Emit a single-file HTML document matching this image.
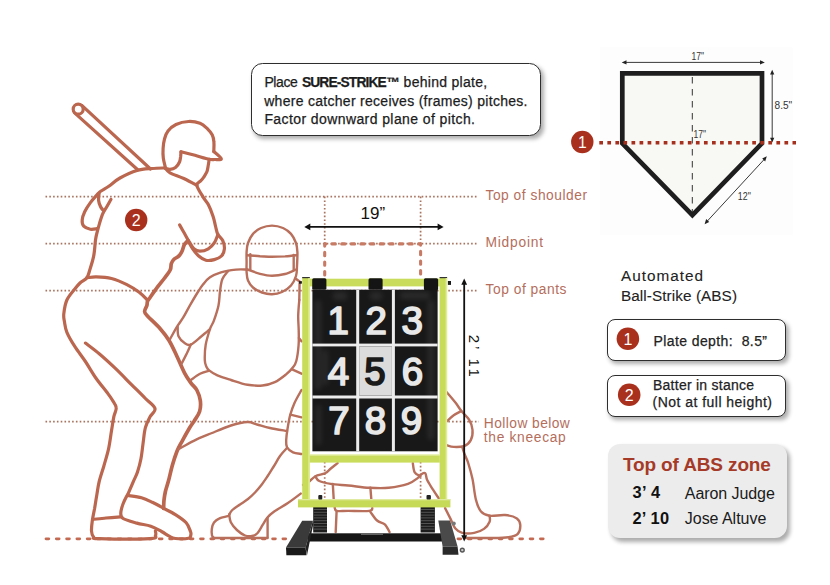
<!DOCTYPE html>
<html><head><meta charset="utf-8">
<style>
html,body{margin:0;padding:0;background:#fff;}
body{width:830px;height:585px;overflow:hidden;position:relative;font-family:"Liberation Sans",sans-serif;}
svg{position:absolute;left:0;top:0;}
.box{position:absolute;box-sizing:border-box;background:#fff;border:1.4px solid #2e2e2e;border-radius:10px;box-shadow:2.5px 3px 4px rgba(0,0,0,0.32);color:#222;}
.t{position:absolute;white-space:nowrap;}
</style></head><body>
<svg width="830" height="585" viewBox="0 0 830 585">
  <!-- faint plate bg -->
  <rect x="600" y="47" width="193" height="188" fill="#fdfdfd"/>
  
  <!-- dotted guide lines -->
  <g stroke="#a8735f" stroke-width="1.7" stroke-dasharray="1.6 2.2" fill="none">
    <line x1="45.5" y1="196.6" x2="478" y2="196.6"/>
    <line x1="45.5" y1="243.6" x2="478" y2="243.6"/>
    <line x1="45.5" y1="290.6" x2="478" y2="290.6"/>
    <line x1="45.5" y1="421.6" x2="479" y2="421.6"/>
    <line x1="324.7" y1="196.6" x2="324.7" y2="243"/>
    <line x1="420.6" y1="196.6" x2="420.6" y2="243"/>
    <line x1="324.7" y1="462" x2="324.7" y2="498"/>
    <line x1="420.6" y1="462" x2="420.6" y2="498"/>
  </g>
  <!-- ground dashed -->
  <line x1="46" y1="538.8" x2="550" y2="538.8" stroke="#c46a52" stroke-width="2.8" stroke-linecap="round" stroke-dasharray="2.8 7.5"/>
  <!-- dashed rectangle -->
  <path d="M324.7 274.9 V243.9 H420.6 V274.9" stroke="#c77a64" stroke-width="3.1" fill="none" stroke-dasharray="3.3 6.3" stroke-linecap="round" stroke-linejoin="round"/>

  <!-- FIGURES -->
<g stroke="#bb664e" stroke-width="3.2" fill="none" stroke-linecap="round" stroke-linejoin="round">
<circle cx="78.2" cy="109.2" r="5.0" stroke-width="3.2"/>
<path d="M81.8 105.4L150.5 169.0"/>
<path d="M74.6 112.9L137.7 169.8"/>
<path d="M97.1 228.7C96.0 228.8 92.6 229.6 90.4 229.2C88.2 228.8 85.1 227.7 83.7 226.2C82.3 224.7 82.0 222.4 82.2 220.0C82.4 217.6 83.3 214.7 84.7 211.8C86.1 208.9 88.4 205.3 90.4 202.6C92.4 199.9 94.8 197.3 96.5 195.4C98.2 193.5 98.5 192.8 100.6 191.3C102.6 189.8 105.6 188.4 108.8 186.2C112.0 184.0 115.3 180.6 120.0 178.0C124.7 175.4 131.7 172.1 137.0 170.5C142.3 168.9 147.3 168.9 152.0 168.5C156.7 168.1 163.2 168.0 165.4 167.9"/>
<path d="M99.1 193.3C99.0 194.5 98.3 198.3 98.6 200.5C98.8 202.7 99.9 205.2 100.6 206.7C101.3 208.2 102.3 209.2 102.7 209.7"/>
<path d="M110.9 199.5C110.2 200.7 108.2 204.3 106.8 206.7C105.4 209.1 103.9 211.1 102.7 213.8C101.5 216.5 100.5 220.0 99.6 223.1C98.7 226.2 97.8 229.5 97.1 232.3C96.4 235.1 96.0 236.2 95.5 240.0C95.0 243.8 94.7 250.5 93.8 255.4C92.9 260.3 91.2 265.5 90.0 269.2C88.8 272.9 88.6 275.4 86.9 277.7C85.2 280.0 82.0 281.1 80.0 283.0C78.0 284.9 76.8 286.4 74.6 289.2C72.4 292.0 68.7 295.9 66.9 300.0C65.1 304.1 64.2 310.1 63.8 313.8C63.4 317.5 64.0 318.9 64.5 322.0C65.0 325.1 65.2 328.3 66.9 332.3C68.6 336.3 71.5 341.3 74.6 346.2C77.7 351.1 81.8 356.1 85.4 361.5C89.0 366.9 92.6 373.4 96.2 378.5C99.8 383.6 104.2 388.7 106.9 392.3C109.6 395.9 110.8 397.4 112.3 400.0C113.8 402.6 116.0 404.9 116.2 407.7C116.5 410.5 114.6 413.0 113.8 416.9C113.0 420.8 112.4 425.4 111.5 430.8C110.6 436.2 109.8 443.3 108.5 449.2C107.2 455.1 105.3 460.8 103.8 466.2C102.2 471.6 100.4 476.7 99.2 481.5C98.0 486.3 97.6 490.5 96.8 495.0C96.0 499.5 95.3 504.2 94.6 508.5C93.8 512.8 92.8 517.0 92.3 520.8C91.8 524.5 91.3 528.3 91.5 531.0C91.7 533.7 92.2 535.7 93.5 537.0C94.8 538.3 89.6 538.3 99.0 538.6C108.4 538.9 140.6 539.1 150.0 538.6C159.4 538.1 154.6 536.8 155.5 535.5C156.4 534.2 155.4 531.6 155.4 530.8"/>
<path d="M92.6 519.4C94.8 519.2 101.3 518.4 106.0 518.0C110.7 517.6 118.1 517.0 120.5 516.8"/>
<path d="M86.9 277.7C88.5 277.6 92.1 276.8 96.2 276.9C100.3 277.0 106.4 277.2 111.5 278.5C116.6 279.8 122.3 282.3 126.9 284.6C131.5 286.9 135.8 289.7 139.2 292.3C142.6 294.9 146.0 298.7 147.3 300.0"/>
<path d="M85.4 343.1C87.7 344.9 94.3 349.7 99.2 353.8C104.1 357.9 109.2 362.6 114.6 367.7C120.0 372.8 126.4 379.5 131.5 384.6C136.6 389.7 141.5 394.5 145.4 398.5C149.3 402.5 154.2 405.4 155.0 408.5C155.8 411.6 151.6 413.7 150.0 416.9C148.4 420.1 146.6 423.3 145.4 427.7C144.2 432.1 143.8 438.0 143.1 443.1C142.4 448.2 141.9 453.7 141.0 458.5C140.1 463.3 138.8 468.0 137.5 472.0C136.2 476.0 134.6 478.5 133.0 482.3C131.4 486.1 128.6 492.6 127.7 494.6"/>
<path d="M127.2 495.2C126.5 496.6 124.2 500.8 123.1 503.8C122.0 506.8 120.8 510.7 120.8 513.1C120.8 515.6 120.4 516.8 123.1 518.5C125.8 520.2 132.3 521.8 136.9 523.1C141.5 524.4 146.7 524.8 150.8 526.2C154.9 527.6 158.4 529.8 161.5 531.5C164.6 533.2 166.9 535.0 169.2 536.2C171.5 537.4 172.2 538.1 175.4 538.5C178.6 538.9 185.9 538.9 188.5 538.3C191.1 537.7 190.5 536.1 190.8 535.0C191.1 533.9 191.3 533.5 190.5 531.5C189.7 529.5 188.7 525.6 186.2 522.8C183.7 520.0 179.2 517.0 175.4 514.6C171.6 512.2 165.6 509.4 163.6 508.3"/>
<path d="M127.7 495.4C130.0 495.8 137.4 496.5 141.5 497.7C145.6 498.9 148.6 500.5 152.3 502.3C156.0 504.1 161.7 507.3 163.6 508.3"/>
<path d="M165.4 168.3C166.2 169.1 166.9 171.1 170.0 172.8C173.1 174.5 179.3 176.4 183.8 178.5C188.3 180.6 194.7 184.2 196.9 185.4"/>
<path d="M165.4 167.7C165.1 166.1 163.7 161.2 163.3 158.0C162.9 154.8 162.9 151.7 163.1 148.5C163.3 145.3 163.7 141.9 164.5 139.0C165.3 136.1 166.1 133.4 168.0 131.0C169.9 128.6 172.6 126.1 176.0 124.5C179.4 122.9 184.5 121.7 188.5 121.5C192.5 121.3 196.8 122.1 200.0 123.3C203.2 124.5 205.4 126.9 207.5 128.8C209.6 130.8 211.2 132.8 212.3 135.0C213.4 137.2 213.7 139.2 213.9 142.0C214.2 144.8 213.8 149.9 213.8 151.5"/>
<path d="M213.8 151.5C215.1 152.7 221.2 157.5 221.3 158.8C221.4 160.1 216.6 159.4 214.6 159.5C212.6 159.6 212.5 160.0 209.2 159.3C205.9 158.6 199.7 156.6 195.0 155.3C190.3 154.1 183.3 152.4 181.0 151.8"/>
<path d="M181.0 151.8C180.9 152.7 180.8 155.3 180.6 157.0C180.3 158.7 180.3 160.2 179.5 162.0C178.7 163.8 177.1 166.3 175.5 167.5C173.9 168.7 171.7 169.2 170.0 169.3C168.3 169.4 166.2 168.5 165.4 168.3"/>
<path d="M209.2 159.3C209.0 160.2 208.7 163.0 208.3 165.0C207.9 167.0 207.8 169.4 207.0 171.5C206.2 173.6 204.5 175.9 203.5 177.5C202.5 179.1 201.9 179.5 200.8 180.8C199.7 182.1 196.5 182.7 196.9 185.4C197.3 188.1 201.1 193.7 203.0 196.9C204.9 200.1 206.6 201.3 208.3 204.6C210.0 207.9 211.9 212.9 213.1 216.5C214.3 220.1 214.7 223.1 215.5 226.1C216.3 229.1 216.7 232.1 217.9 234.5C219.1 236.9 221.6 238.1 222.7 240.5C223.8 242.9 224.6 246.2 224.4 248.8C224.2 251.4 223.2 254.2 221.5 256.0C219.8 257.8 216.9 258.9 214.3 259.6C211.7 260.3 208.5 260.8 205.9 260.2C203.3 259.6 200.9 257.9 198.7 256.0C196.5 254.1 194.5 251.4 192.7 248.8C190.9 246.2 188.7 241.9 187.9 240.5"/>
<path d="M179.6 224.9C180.4 226.3 182.8 230.5 184.4 233.3C186.0 236.1 187.5 239.1 189.1 241.7C190.7 244.3 192.1 247.2 193.9 248.8C195.7 250.4 197.5 251.2 199.9 251.2C202.3 251.2 205.9 250.2 208.3 248.8C210.7 247.4 212.7 245.3 214.3 242.9C215.9 240.5 217.3 235.9 217.9 234.5"/>
<path stroke-width="3.7" d="M187.9 240.5C187.3 241.2 185.4 242.8 184.4 244.6C183.4 246.4 182.9 249.3 182.0 251.2C181.1 253.1 180.4 254.5 179.0 255.9C177.6 257.3 175.1 258.2 173.8 259.5C172.5 260.8 171.9 261.9 171.3 263.6C170.7 265.3 171.4 267.3 170.3 269.7C169.2 272.1 166.8 275.1 164.6 278.0C162.4 280.9 159.8 284.0 157.4 287.2C155.0 290.4 151.9 294.9 150.3 297.2C148.7 299.5 148.2 299.6 147.6 301.0C147.0 302.4 147.4 303.6 146.9 305.4C146.4 307.1 144.5 309.7 144.6 311.5C144.7 313.3 145.1 313.4 147.7 316.2C150.3 319.0 156.4 324.4 160.0 328.5C163.6 332.6 166.4 336.2 169.2 340.8C172.0 345.4 174.3 350.8 176.9 356.2C179.5 361.6 182.3 368.7 184.6 373.1C186.9 377.5 188.8 380.0 190.8 382.8C192.8 385.6 195.2 387.0 196.8 390.0C198.4 393.0 199.8 397.0 200.3 400.6C200.8 404.2 200.6 408.1 199.6 411.5C198.6 414.9 195.8 418.3 194.1 421.1C192.4 423.9 191.3 425.0 189.2 428.5C187.1 432.0 183.6 438.5 181.5 442.3C179.4 446.1 178.4 447.6 176.9 451.5C175.4 455.4 173.7 460.5 172.3 465.4C170.9 470.3 169.7 476.4 168.5 480.8C167.3 485.2 166.2 488.3 165.4 491.5C164.7 494.7 164.3 497.2 164.0 500.0C163.7 502.8 163.7 506.9 163.6 508.3"/>
</g>
<g stroke="#b86f5b" stroke-width="2.4" fill="none" stroke-linecap="round" stroke-linejoin="round">
<path d="M246.6 262.0C246.6 260.3 246.4 255.2 246.6 252.0C246.8 248.8 246.9 246.0 248.0 243.0C249.1 240.0 250.8 236.4 253.0 233.9C255.2 231.4 257.8 229.4 261.0 228.0C264.2 226.6 268.3 225.6 272.0 225.6C275.7 225.6 279.8 226.6 283.0 228.0C286.2 229.4 288.8 231.4 291.0 233.9C293.2 236.4 294.9 240.0 296.0 243.0C297.1 246.0 297.2 248.2 297.4 252.0C297.6 255.8 297.2 262.0 297.0 266.0C296.8 270.0 297.0 272.8 296.0 276.0C295.0 279.2 293.3 282.8 291.0 285.5C288.7 288.2 285.2 290.6 282.0 292.0C278.8 293.4 275.3 294.1 272.0 294.2C268.7 294.3 265.2 293.6 262.0 292.5C258.8 291.4 255.3 289.5 253.0 287.5C250.7 285.5 249.1 283.1 248.0 280.5C246.9 277.9 246.8 275.1 246.6 272.0C246.4 268.9 246.6 263.7 246.6 262.0"/>
<path d="M247.3 255.3C249.4 255.5 255.9 255.9 260.0 256.2C264.1 256.4 267.8 256.8 272.0 256.8C276.2 256.8 280.9 256.6 285.0 256.4C289.1 256.1 294.8 255.5 296.7 255.3"/>
<path d="M247.3 269.5C249.4 270.2 255.9 272.8 260.0 273.8C264.1 274.8 267.8 275.7 272.0 275.7C276.2 275.7 281.0 275.0 285.0 274.0C289.0 273.0 294.2 270.2 296.0 269.5"/>
<path d="M250.3 254.3L250.3 269.6"/>
<path d="M293.7 255.0L293.7 270.0"/>
<path d="M246.6 269.5C244.8 269.5 240.3 269.1 236.0 269.6C231.7 270.1 225.3 271.0 221.0 272.3C216.7 273.6 213.0 275.3 210.0 277.3C207.0 279.3 204.9 282.2 203.0 284.5C201.1 286.8 200.5 287.8 198.5 291.0C196.5 294.2 193.4 299.4 190.8 303.8C188.2 308.2 185.4 313.9 183.1 317.7C180.8 321.5 179.1 323.3 176.9 326.9C174.7 330.5 171.2 337.1 170.0 339.2"/>
<path d="M295.5 278.5L300.6 282.2"/>
<path d="M299.6 283.3L299.3 300.0"/>
<path d="M228.0 271.0C227.1 272.4 223.6 275.8 222.3 279.2C221.0 282.6 220.6 287.1 220.0 291.5C219.4 295.9 219.5 300.5 218.5 305.4C217.5 310.3 215.2 316.9 213.8 320.8C212.4 324.7 211.3 325.0 210.0 329.0C208.7 333.0 206.6 339.5 205.7 344.7C204.8 349.9 204.7 356.5 204.8 360.1C204.9 363.7 205.6 364.8 206.3 366.5C207.0 368.2 207.2 368.9 209.1 370.4C210.9 371.9 213.8 373.7 217.4 375.3C221.1 376.9 226.0 378.4 231.0 380.0C236.0 381.6 242.2 383.9 247.5 384.8C252.8 385.7 257.9 385.9 262.5 385.5C267.1 385.1 270.9 383.9 274.8 382.1C278.7 380.3 282.8 377.0 285.8 374.6C288.8 372.2 290.9 370.0 292.6 367.7C294.4 365.4 295.3 364.8 296.3 361.0C297.3 357.2 298.2 350.2 298.6 345.0C299.0 339.8 298.8 334.9 298.7 330.0C298.6 325.1 298.1 320.7 298.2 315.7C298.3 310.7 299.1 302.6 299.3 300.0"/>
<path d="M177.7 326.9C177.8 328.4 177.3 333.5 178.5 336.2C179.7 338.9 182.5 341.7 184.6 343.1C186.7 344.5 188.0 345.8 190.8 344.6C193.6 343.5 198.3 338.8 201.5 336.2C204.7 333.6 208.6 330.4 210.0 329.2"/>
<path d="M190.8 344.6C190.0 346.3 187.8 351.4 186.2 354.6C184.6 357.8 182.3 362.3 181.5 363.8"/>
<path d="M208.5 370.8C207.1 371.3 202.9 372.3 200.0 373.8C197.1 375.3 192.3 379.0 190.8 380.0"/>
<path d="M178.5 449.2C181.1 447.8 188.2 443.5 193.8 440.8C199.4 438.1 205.8 435.6 212.0 433.0C218.2 430.4 225.1 427.3 231.0 425.5C236.9 423.7 243.2 422.2 247.5 422.0C251.8 421.8 253.2 423.5 257.0 424.5C260.8 425.5 265.0 426.9 270.0 428.0C275.0 429.1 284.2 430.5 287.0 431.0"/>
<path d="M301.5 390.0C300.3 392.2 296.4 398.8 294.5 403.0C292.6 407.2 291.4 410.7 290.2 415.0C289.0 419.3 288.2 424.8 287.5 429.0C286.8 433.2 286.3 437.0 286.2 440.0C286.1 443.0 285.9 445.1 287.0 447.2C288.1 449.2 290.6 451.2 293.0 452.3C295.4 453.4 300.1 453.7 301.5 454.0"/>
<path d="M290.4 414.7L301.5 417.3"/>
<path d="M292.1 369.4L301.5 373.7"/>
<path d="M298.9 337.9L301.5 341.3"/>
<path d="M287.0 448.0C285.8 449.3 282.2 453.0 280.0 456.0C277.8 459.0 276.1 462.7 274.0 466.0C271.9 469.3 269.9 472.8 267.7 476.0C265.5 479.2 263.1 482.8 261.0 485.5C258.9 488.2 257.2 490.2 255.0 492.5C252.8 494.8 250.5 497.0 248.0 499.0C245.5 501.0 242.6 502.7 240.0 504.5C237.4 506.3 234.1 508.3 232.3 510.0C230.5 511.7 229.7 513.8 229.2 514.6"/>
<path d="M229.2 514.6C228.9 514.9 229.3 515.6 227.7 516.2C226.1 516.8 221.8 517.2 219.5 518.3C217.2 519.3 215.3 520.7 214.0 522.5C212.7 524.3 212.1 526.8 211.8 529.0C211.5 531.2 211.6 533.9 212.0 535.5C212.4 537.1 214.1 537.9 214.5 538.4"/>
<path d="M229.2 514.6C229.5 515.9 229.5 519.7 230.8 522.3C232.1 524.9 234.5 527.8 236.9 530.0C239.3 532.2 242.5 534.5 245.0 535.5C247.5 536.5 250.0 536.3 252.0 536.0C254.0 535.7 255.4 535.3 257.1 533.5C258.9 531.7 260.8 527.9 262.5 525.2C264.2 522.5 265.4 519.8 267.4 517.5C269.3 515.2 270.8 513.9 274.2 511.5C277.6 509.1 283.5 506.0 287.9 503.0C292.3 500.0 298.6 495.2 300.7 493.6"/>
<path d="M267.6 518.0L267.6 537.0"/>
<path d="M212.5 538.0L267.6 538.0"/>
<path d="M303.0 485.0C303.9 484.5 306.6 483.5 308.7 482.0C310.8 480.5 312.7 477.6 315.4 476.2C318.1 474.8 322.4 474.6 325.0 473.3C327.6 472.0 328.7 470.2 330.8 468.5C332.9 466.8 336.5 464.0 337.6 463.1"/>
<path d="M315.4 476.5C316.0 477.2 316.7 479.8 319.3 481.0C321.9 482.2 326.0 483.1 330.8 483.9C335.6 484.6 341.8 484.9 348.2 485.5C354.6 486.1 362.6 487.4 369.4 487.8C376.1 488.2 382.3 488.5 388.7 487.8C395.1 487.1 403.2 485.5 408.0 483.9C412.8 482.3 415.4 479.7 417.6 478.1C419.8 476.5 420.1 475.1 421.4 474.3C422.7 473.5 424.3 472.3 425.3 473.3C426.3 474.3 425.9 477.4 427.2 480.1C428.5 482.8 431.1 486.6 433.0 489.7C434.9 492.8 437.8 496.9 438.8 498.4"/>
<path d="M412.8 463.1C413.1 464.6 413.4 470.1 414.7 472.3C416.0 474.5 419.5 475.6 420.5 476.2"/>
<path d="M332.8 483.9L333.7 499.0"/>
<path d="M370.4 487.8L371.3 499.0"/>
<path d="M334.7 507.4C335.0 508.0 334.4 510.3 336.6 510.9C338.9 511.5 342.7 510.9 348.2 510.9C353.7 510.9 365.4 511.4 369.4 510.9C373.4 510.4 371.8 508.5 372.3 508.0"/>
<path d="M336.6 510.9L335.7 532.1"/>
<path d="M370.4 511.9C371.5 513.3 374.7 518.4 377.1 520.5C379.5 522.6 382.7 522.5 384.8 524.4C386.9 526.3 388.8 530.8 389.6 532.1"/>
<path d="M446.8 392.2C448.2 393.9 453.0 399.4 455.4 402.5C457.8 405.6 459.1 408.1 461.4 411.0C463.7 413.9 467.2 416.5 469.1 419.6C471.0 422.7 472.2 426.4 472.5 429.8C472.8 433.2 472.2 437.4 470.8 440.1C469.4 442.8 466.8 445.0 463.9 446.1C461.0 447.2 456.5 447.0 453.7 446.9C450.9 446.8 447.9 445.5 446.8 445.2"/>
<path d="M446.8 421.3C447.9 420.3 451.3 417.0 453.7 415.3C456.1 413.6 460.1 411.7 461.4 411.0"/>
<path d="M462.2 446.9C462.6 448.1 463.5 451.3 464.5 454.0C465.5 456.7 466.9 458.8 468.2 463.0C469.5 467.2 471.2 473.0 472.5 479.1C473.8 485.2 474.5 494.2 475.9 499.6C477.3 505.0 478.7 508.8 481.0 511.5C483.3 514.2 485.6 515.2 489.6 515.8C493.6 516.4 500.4 514.6 505.0 515.0C509.6 515.4 514.4 516.7 516.9 518.4C519.4 520.1 520.1 522.6 520.3 525.2C520.4 527.8 519.8 531.8 517.8 533.8C515.8 535.8 512.8 536.5 508.4 537.2C504.0 537.9 498.4 537.9 491.3 538.0C484.2 538.1 469.9 538.0 465.6 538.0"/>
<path d="M489.6 515.8C489.6 516.8 490.5 519.7 489.6 521.8C488.7 523.9 487.0 526.8 484.4 528.6C481.8 530.5 477.9 532.2 474.2 532.9C470.5 533.6 465.3 533.6 462.2 532.9C459.1 532.2 457.4 531.0 455.4 528.6C453.4 526.2 452.0 521.8 450.3 518.4C448.6 515.0 446.0 509.8 445.1 508.1"/>
</g>

  <!-- batter badge 2 -->
  <circle cx="136.2" cy="220" r="11.2" fill="#a8301c"/>
  <text x="136.2" y="226" font-size="16" fill="#fff" text-anchor="middle" font-family="Liberation Sans">2</text>

  <!-- SIGN STAND -->
  <g id="sign">
    <!-- base feet -->
    <rect x="307.7" y="533.3" width="136" height="8.2" fill="#161616"/>
    <rect x="361" y="533.6" width="22" height="1.2" fill="#777"/>
    <polygon points="302.2,520.7 312.9,520.7 305.6,547.6 286,547.6" fill="#3a3a3a"/>
    <polygon points="312.9,520.7 313.5,523 307,555.3 305.6,547.6" fill="#222"/>
    <polygon points="286,547.6 305.6,547.6 306.5,555.3 286.4,555.3" fill="#1a1a1a"/>
    <polygon points="438.3,520.5 450.1,520.5 457.6,546.4 442.6,546.4" fill="#4a4a4a"/>
    <polygon points="442.6,546.4 457.6,546.4 458.5,554.8 442.6,554.8" fill="#2a2a2a"/>
    <circle cx="453.8" cy="523.6" r="2" fill="#777"/>
    <circle cx="462.3" cy="550.1" r="2.6" fill="#555"/>
    <circle cx="462.3" cy="550.1" r="1.2" fill="#ccc"/>
    <!-- springs -->
    <g>
      <rect x="313.2" y="507" width="13.8" height="25.5" fill="#1c1c1c"/>
      <rect x="420.6" y="507" width="14.3" height="25.5" fill="#1c1c1c"/>
      <g stroke="#5a5a5a" stroke-width="0.9">
        <path d="M313.5 509.5H327M313.5 512.3H327M313.5 515.1H327M313.5 517.9H327M313.5 520.7H327M313.5 523.5H327M313.5 526.3H327M313.5 529.1H327"/>
        <path d="M421 509.5H434.6M421 512.3H434.6M421 515.1H434.6M421 517.9H434.6M421 520.7H434.6M421 523.5H434.6M421 526.3H434.6M421 529.1H434.6"/>
      </g>
    </g>
    <!-- posts -->
    <rect x="302.2" y="277" width="7.6" height="223" fill="#c9dc5a"/>
    <rect x="439.6" y="277" width="7.5" height="223" fill="#c9dc5a"/>
    <rect x="302.2" y="277" width="7.6" height="1.2" fill="#333"/>
    <rect x="439.6" y="277" width="7.5" height="1.2" fill="#333"/>
    <rect x="308.3" y="278" width="1.5" height="222" fill="#e2ec98"/>
    <rect x="445.6" y="278" width="1.5" height="222" fill="#e2ec98"/>
    <rect x="309.8" y="278.7" width="130" height="7.7" fill="#cadc5c"/>
    <rect x="309.8" y="455.2" width="130" height="7.4" fill="#cadc5c"/>
    <rect x="309.8" y="454.2" width="130" height="1.2" fill="#e6efa8"/>
    <rect x="298" y="499" width="152.4" height="8.4" fill="#c7da58"/>
    <rect x="298" y="499" width="152.4" height="1.3" fill="#e0eaa0"/>
    <rect x="318.3" y="495" width="4" height="4.5" rx="1" fill="#222"/>
    <rect x="426.5" y="495" width="4.4" height="4.5" rx="1" fill="#222"/>
    <rect x="299" y="281.2" width="2.8" height="2.5" fill="#1a1a1a"/>
    <rect x="447.9" y="281" width="3.1" height="3.9" fill="#1a1a1a"/>
    <!-- board -->
    <rect x="312.4" y="289.7" width="125.2" height="161.6" fill="#181818"/>
    <defs><filter id="bl" x="-50%" y="-50%" width="200%" height="200%"><feGaussianBlur stdDeviation="2.5"/></filter></defs>
    <g fill="#8a8a8a" opacity="0.16" filter="url(#bl)">
      <rect x="315" y="300" width="6" height="90" rx="3"/>
      <rect x="323" y="350" width="5" height="35" rx="2"/>
      <rect x="333" y="292" width="14" height="8" rx="3"/>
      <rect x="370" y="292" width="12" height="8" rx="3"/>
      <rect x="400" y="292" width="30" height="7" rx="3"/>
      <rect x="428" y="300" width="6" height="140" rx="3"/>
      <rect x="316" y="405" width="5" height="40" rx="2"/>
    </g>
    <!-- tabs -->
    <rect x="312.2" y="278.2" width="14.2" height="11.5" rx="1.5" fill="#141414"/>
    <rect x="368.5" y="278.2" width="14.1" height="11.5" rx="1.5" fill="#141414"/>
    <rect x="423.9" y="278.2" width="14.2" height="12" rx="1.5" fill="#141414"/>
    <!-- grid lines -->
    <g fill="#ececec">
      <rect x="356.2" y="289.7" width="3" height="161.6"/>
      <rect x="391.9" y="289.7" width="3" height="161.6"/>
      <rect x="312.4" y="343.6" width="125.2" height="2.8"/>
      <rect x="312.4" y="395.5" width="125.2" height="3"/>
    </g>
    <rect x="359.2" y="346.4" width="32.7" height="49.1" fill="#dcdcdc"/>
    <g font-family="Liberation Sans" font-size="38.5" fill="#e8e8e8" stroke="#e8e8e8" stroke-width="1.7" stroke-linejoin="round" text-anchor="middle">
      <text x="338.1" y="334">1</text>
      <text x="376.3" y="334">2</text>
      <text x="412.3" y="334">3</text>
      <text x="338.5" y="385.1">4</text>
      <text x="374.9" y="385.1" fill="#1a1a1a" stroke="#1a1a1a">5</text>
      <text x="412.4" y="385.1">6</text>
      <text x="339" y="434.4">7</text>
      <text x="375.5" y="434.4">8</text>
      <text x="411.4" y="434.4">9</text>
    </g>
  </g>

  <!-- 19" arrow -->
  <g stroke="#111" stroke-width="1.8" fill="#111">
    <line x1="308" y1="226.9" x2="440" y2="226.9"/>
    <polygon points="304.3,226.9 310.3,223.6 310.3,230.2" stroke="none"/>
    <polygon points="443.6,226.9 437.6,223.6 437.6,230.2" stroke="none"/>
    <!-- vertical 2'11 arrow -->
    <line x1="464.2" y1="283" x2="464.2" y2="537"/>
    <polygon points="464.2,278.6 461.3,284.8 467.1,284.8" stroke="none"/>
    <polygon points="464.2,541.5 461.3,535.3 467.1,535.3" stroke="none"/>
  </g>
  <text x="360.5" y="218.8" font-size="17" fill="#111" font-family="Liberation Sans">19”</text>
  <text transform="translate(469.3,334.8) rotate(90)" font-size="15" fill="#111" font-family="Liberation Sans" textLength="42" lengthAdjust="spacing">2’ 11</text>

  <!-- labels -->
  <g font-family="Liberation Sans" font-size="13.8" fill="#b56e5c">
    <text x="485.5" y="199.9" textLength="101.5" lengthAdjust="spacing">Top of shoulder</text>
    <text x="485.5" y="247.3" textLength="57.5" lengthAdjust="spacing">Midpoint</text>
    <text x="485.5" y="293.8" textLength="81" lengthAdjust="spacing">Top of pants</text>
    <text x="483.8" y="428.3" textLength="86" lengthAdjust="spacing">Hollow below</text>
    <text x="483.8" y="442.2" textLength="82" lengthAdjust="spacing">the kneecap</text>
  </g>

  <!-- HOME PLATE -->
  <g id="plate">
    <polygon points="622.3,73.3 762,73.3 762,143.3 692.4,215.1 622.3,143.3" fill="#f8f8f5" stroke="#1e1e1e" stroke-width="4.7" stroke-linejoin="miter"/>
    <line x1="692.3" y1="77" x2="692.3" y2="212" stroke="#333" stroke-width="1" stroke-dasharray="6.5 5.5"/>
    <g stroke="#222" stroke-width="0.9" fill="#222">
      <line x1="624" y1="62.4" x2="763" y2="62.4"/>
      <polygon points="621.7,62.4 626.5,60.3 626.5,64.5" stroke="none"/>
      <polygon points="764.8,62.4 760,60.3 760,64.5" stroke="none"/>
      <line x1="772.2" y1="72" x2="772.2" y2="140"/>
      <polygon points="772.2,69.8 770.1,74.5 774.3,74.5" stroke="none"/>
      <polygon points="772.2,142.5 770.1,137.8 774.3,137.8" stroke="none"/>
      <line x1="765.5" y1="158" x2="706" y2="222.5"/>
      <polygon points="766.8,156.3 762.2,158.6 765.2,161.4" stroke="none"/>
      <polygon points="704.6,224.2 709.2,221.9 706.2,219.1" stroke="none"/>
    </g>
    <g font-family="Liberation Sans" font-size="10.2" fill="#333">
      <text x="691.6" y="59.6" textLength="12.5" lengthAdjust="spacingAndGlyphs">17"</text>
      <text x="774.6" y="109.4" textLength="17.6" lengthAdjust="spacingAndGlyphs">8.5"</text>
      <text x="693.6" y="138.3" textLength="12.5" lengthAdjust="spacingAndGlyphs">17"</text>
      <text x="737.8" y="199.6" textLength="13" lengthAdjust="spacingAndGlyphs">12"</text>
    </g>
    <!-- red dotted plate depth line -->
    <line x1="599.3" y1="142.7" x2="796" y2="142.7" stroke="#a5301e" stroke-width="3.6" stroke-dasharray="3.7 4.35"/>
    <circle cx="582.3" cy="142" r="11.2" fill="#a8301c"/>
    <text x="582.3" y="147.8" font-size="15.6" fill="#fff" text-anchor="middle" font-family="Liberation Sans">1</text>
  </g>
</svg>

<!-- top text box -->
<div class="box" style="left:250.9px;top:63.4px;width:290.6px;height:72.3px;border-radius:11.5px;"></div>
<!-- right boxes -->
<div class="box" style="left:607px;top:318.7px;width:179.1px;height:42.8px;border-radius:8px;"></div>
<div class="box" style="left:607px;top:374.8px;width:179.1px;height:41.8px;border-radius:8px;"></div>
<div class="box" style="left:608.4px;top:444.3px;width:179px;height:93.8px;border-radius:12px;background:#ececec;border:none;box-shadow:3px 3.5px 4px rgba(0,0,0,0.33);"></div>
<svg width="830" height="585" viewBox="0 0 830 585" font-family="Liberation Sans">
  <g fill="#1c1c1c" font-size="14" stroke="#1c1c1c" stroke-width="0.25">
    <text x="264.4" y="86.8" textLength="33.4" lengthAdjust="spacing">Place</text>
    <text x="301.9" y="86.8" font-weight="bold" font-size="13.8" textLength="97.8" lengthAdjust="spacing">SURE-STRIKE™</text>
    <text x="403.6" y="86.8" textLength="83.6" lengthAdjust="spacing">behind plate,</text>
    <text x="264.2" y="105.6" textLength="263.3" lengthAdjust="spacing">where catcher receives (frames) pitches.</text>
    <text x="264.4" y="123.6" textLength="210.6" lengthAdjust="spacing">Factor downward plane of pitch.</text>
  </g>
  <g fill="#222" font-size="15.3" stroke="#222" stroke-width="0.1">
    <text x="621" y="280.6" textLength="82" lengthAdjust="spacing">Automated</text>
    <text x="621" y="301.3" textLength="116" lengthAdjust="spacing">Ball-Strike (ABS)</text>
  </g>
  <circle cx="627.9" cy="338.8" r="11.3" fill="#a8301c"/>
  <text x="627.9" y="344.5" font-size="16" fill="#fff" text-anchor="middle">1</text>
  <circle cx="629.2" cy="394.7" r="11.3" fill="#a8301c"/>
  <text x="629.2" y="400.5" font-size="16" fill="#fff" text-anchor="middle">2</text>
  <g fill="#222" font-size="14" stroke="#222" stroke-width="0.25">
    <text x="653.5" y="346.1" textLength="113.5" lengthAdjust="spacing">Plate depth:&#160; 8.5”</text>
    <text x="653" y="390.2" textLength="101" lengthAdjust="spacing">Batter in stance</text>
    <text x="652.5" y="407.2" textLength="119.5" lengthAdjust="spacing">(Not at full height)</text>
  </g>
  <text x="622.9" y="471.3" font-size="19" font-weight="bold" fill="#a63a28" textLength="148" lengthAdjust="spacing">Top of ABS zone</text>
  <g font-size="16">
    <text x="632.5" y="498.3" font-size="16.4" font-weight="bold" fill="#111" textLength="27.5" lengthAdjust="spacing">3’ 4</text>
    <text x="684.8" y="498.5" fill="#1a1a1a" textLength="90" lengthAdjust="spacing">Aaron Judge</text>
    <text x="632.5" y="523.6" font-size="16.4" font-weight="bold" fill="#111" textLength="36.5" lengthAdjust="spacing">2’ 10</text>
    <text x="684.8" y="523.6" fill="#1a1a1a" textLength="81.5" lengthAdjust="spacing">Jose Altuve</text>
  </g>
</svg>
</body></html>
